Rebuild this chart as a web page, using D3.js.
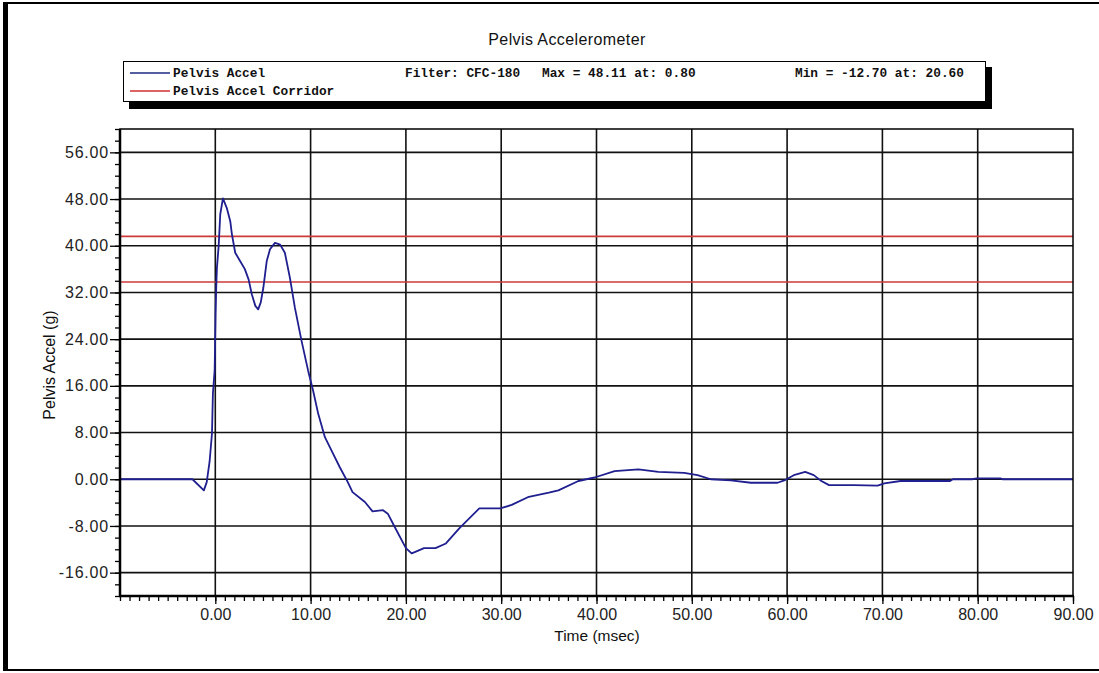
<!DOCTYPE html>
<html><head><meta charset="utf-8">
<script src="https://cdnjs.cloudflare.com/ajax/libs/d3/7.8.5/d3.min.js"></script>
<style>body{margin:0;background:#fff}svg{display:block}</style>
</head><body>
<svg id="c" width="1099" height="673"></svg>
<script>
const title = "Pelvis Accelerometer";
const xLabel = "Time (msec)";
const yLabel = "Pelvis Accel (g)";
const seriesNames = ["Pelvis Accel", "Pelvis Accel Corridor"];
const legendInfo = ["Filter: CFC-180", "Max = 48.11 at: 0.80", "Min = -12.70 at: 20.60"];
const xTicks = [0, 10, 20, 30, 40, 50, 60, 70, 80, 90];
const yTicks = [-16, -8, 0, 8, 16, 24, 32, 40, 48, 56];
const corridor = [41.6, 33.8];
const time = [-10,-2.4,-1.2,-0.9,-0.6,-0.35,-0.25,-0.07,0.03,0.1,0.17,0.35,0.52,0.8,1.2,1.57,1.74,2.09,2.6,3.1,3.5,3.83,4.2,4.5,4.77,5.04,5.4,5.74,6.26,6.8,7.3,7.83,8.35,9.05,9.74,10.26,10.8,11.5,12.2,13.05,13.9,14.4,15.7,16.5,17.6,18.1,18.8,20.0,20.6,21.05,21.9,23.1,24.2,25.6,27.7,29.9,31.1,32.9,35.0,36.0,38.1,39.8,41.9,44.4,46.5,49.2,50.6,52.0,54.1,56.2,59.0,59.7,60.7,61.9,62.8,63.5,64.4,67.0,69.5,70.2,71.9,77.1,77.4,79.4,79.9,82.4,82.6,90];
const accel = [0,0,-1.9,-0.5,3,7.8,14.7,18.6,28.3,33,36.2,39.9,45.4,48.11,46.5,44.2,42,38.8,37.4,36,34.2,31.7,29.7,29.1,30.3,32.8,37.4,39.4,40.5,40.2,38.8,34.5,29.4,23.7,18.6,15.2,11.2,7.2,4.9,2.1,-0.5,-2.2,-3.9,-5.5,-5.3,-5.9,-8.1,-11.8,-12.7,-12.4,-11.8,-11.8,-11,-8.4,-5,-5,-4.4,-3,-2.3,-1.9,-0.3,0.3,1.4,1.7,1.25,1.1,0.7,0,-0.2,-0.6,-0.6,-0.2,0.7,1.25,0.7,-0.2,-1.0,-1.0,-1.1,-0.7,-0.3,-0.3,0,0,0.15,0.15,0,0];

const svg = d3.select("#c");
const L = 120, R = 1073, T = 129, B = 596;
const x = d3.scaleLinear().domain([-10, 90]).range([L, R]);
const y = d3.scaleLinear().domain([-20, 60]).range([B, T]);
const sans = "'Liberation Sans', Arial, sans-serif";
const mono = "'Liberation Mono', 'Courier New', monospace";
const fmt = d => d3.format(".2f")(d).replace("\u2212", "-");

// outer frame
svg.append("line").attr("x1",5.5).attr("x2",5.5).attr("y1",2).attr("y2",671).attr("stroke","#000").attr("stroke-width",5);
svg.append("line").attr("x1",3).attr("x2",1099).attr("y1",3).attr("y2",3).attr("stroke","#000").attr("stroke-width",2);
svg.append("line").attr("x1",3).attr("x2",1099).attr("y1",670).attr("y2",670).attr("stroke","#000").attr("stroke-width",2);

// title
svg.append("text").attr("x",567).attr("y",45).attr("text-anchor","middle")
  .attr("font-family",sans).attr("font-size",16).attr("letter-spacing",0.4).attr("fill","#111").text(title);

// legend box with shadow
svg.append("rect").attr("x",129).attr("y",67).attr("width",863).attr("height",42).attr("fill","#000");
svg.append("rect").attr("x",123.5).attr("y",61.5).attr("width",862).attr("height",40).attr("fill","#fff").attr("stroke","#000").attr("stroke-width",1);
const legColors = ["#1c2a80", "#d03030"];
seriesNames.forEach((n,i)=>{
  const yy = 73 + i*18;
  svg.append("line").attr("x1",130).attr("x2",170).attr("y1",yy).attr("y2",yy).attr("stroke",legColors[i]).attr("stroke-width",1.3);
  svg.append("text").attr("x",173).attr("y",yy+4).attr("font-family",mono).attr("font-weight","bold").attr("font-size",12.8).attr("fill","#111").text(n);
});
const infoX = [405, 542, 795];
legendInfo.forEach((s,i)=>{
  svg.append("text").attr("x",infoX[i]).attr("y",77).attr("font-family",mono).attr("font-weight","bold").attr("font-size",12.8).attr("fill","#111").text(s);
});

// grid
const g = svg.append("g");
g.selectAll(".vg").data(xTicks.filter(d=>d<90)).enter().append("line")
  .attr("x1",d=>x(d)).attr("x2",d=>x(d)).attr("y1",T).attr("y2",B).attr("stroke","#111").attr("stroke-width",1.6);
g.selectAll(".hg").data(yTicks).enter().append("line")
  .attr("x1",L).attr("x2",R).attr("y1",d=>y(d)).attr("y2",d=>y(d)).attr("stroke","#111").attr("stroke-width",1.6);

// corridor
g.selectAll(".cor").data(corridor).enter().append("line")
  .attr("x1",L).attr("x2",R).attr("y1",d=>y(d)).attr("y2",d=>y(d)).attr("stroke","#cc3a3a").attr("stroke-width",1.6);

// curve
const pts = time.map((t,i)=>[t, accel[i]]);
svg.append("path").datum(pts).attr("fill","none").attr("stroke","#1f1f8f").attr("stroke-width",1.8)
  .attr("stroke-linejoin","round")
  .attr("d", d3.line().x(d=>x(d[0])).y(d=>y(d[1])));

// border
svg.append("rect").attr("x",L).attr("y",T).attr("width",R-L).attr("height",B-T).attr("fill","none").attr("stroke","#000").attr("stroke-width",1.5);
svg.append("line").attr("x1",L).attr("x2",L).attr("y1",T).attr("y2",B+1).attr("stroke","#000").attr("stroke-width",2.5);
svg.append("line").attr("x1",L-1).attr("x2",R+1).attr("y1",B).attr("y2",B).attr("stroke","#000").attr("stroke-width",2.5);

// axes
const xAxisMinor = d3.axisBottom(x).tickValues(d3.range(-10, 90.5, 1)).tickSize(5).tickFormat("");
const xg1 = svg.append("g").attr("transform",`translate(0,${B})`).call(xAxisMinor);
const xAxis = d3.axisBottom(x).tickValues(xTicks).tickSize(8).tickPadding(3).tickFormat(fmt);
const xg = svg.append("g").attr("transform",`translate(0,${B})`).call(xAxis);
const yAxisMinor = d3.axisLeft(y).tickValues(d3.range(-20, 60.5, 2)).tickSize(5).tickFormat("");
const yg1 = svg.append("g").attr("transform",`translate(${L},0)`).call(yAxisMinor);
const yAxis = d3.axisLeft(y).tickValues(yTicks).tickSize(10).tickPadding(1).tickFormat(fmt);
const yg = svg.append("g").attr("transform",`translate(${L},0)`).call(yAxis);
[xg1,xg,yg1,yg].forEach(a=>{
  a.select(".domain").remove();
  a.selectAll("line").attr("stroke","#000").attr("stroke-width",1.3);
  a.selectAll("text").attr("font-family",sans).attr("font-size",16).attr("fill","#222");
});
yg.selectAll("text").attr("letter-spacing",0.8);
xg.selectAll("text").attr("dy","0.8em");

// axis titles
svg.append("text").attr("x",597).attr("y",641).attr("text-anchor","middle")
  .attr("font-family",sans).attr("font-size",15.5).attr("fill","#111").text(xLabel);
svg.append("text").attr("transform","translate(55,365) rotate(-90)").attr("text-anchor","middle")
  .attr("font-family",sans).attr("font-size",16).attr("fill","#111").text(yLabel);
</script>
</body></html>
